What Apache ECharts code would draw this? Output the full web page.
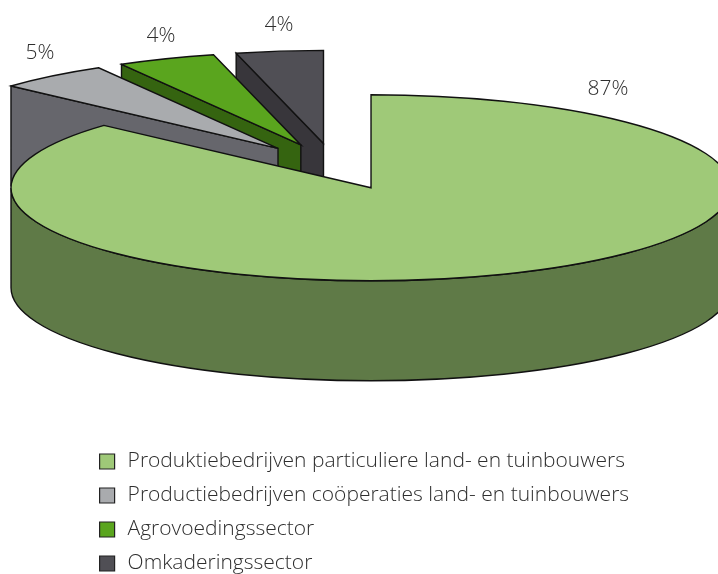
<!DOCTYPE html>
<html>
<head>
<meta charset="utf-8">
<style>
html,body{margin:0;padding:0;background:#fff;overflow:hidden;}
#chart{width:718px;height:574px;}
</style>
<script src="https://cdn.jsdelivr.net/npm/echarts@6/dist/echarts.min.js"></script>
</head>
<body>
<div id="chart"></div>
<script>
var sectors = ['Produktiebedrijven particuliere land- en tuinbouwers', 'Productiebedrijven coöperaties land- en tuinbouwers', 'Agrovoedingssector', 'Omkaderingssector'];
var shares = [86.7, 5.0, 4.4, 3.9];

var topColors = ['#9fc978', '#a9abae', '#5aa51e', '#504f55'];
var wallColors = ['#5f7a47', '#66666c', '#356410', '#38363b'];
var labelSpots = [[608, 89], [40, 53], [161, 36], [279, 25]];

// ellips van de taart + hoogte, alles in px
var cx = 334.5, cy = 166.5, rx = 360, ry = 93, depth = 100, explode = 0.25;
var lineCol = '#111';

function px(a, ox, oy) {
	return [ox + rx * Math.sin(a), oy - ry * Math.cos(a)];
}

// boog van a1 naar a2 (met de klok mee)
function arcPath(a1, a2, ox, oy) {
	var end = px(a2, ox, oy);
	var large = (a2 - a1) > Math.PI ? 1 : 0;
	return 'A' + rx + ' ' + ry + ' 0 ' + large + ' 1 ' + end[0] + ' ' + end[1];
}

function renderSlice(params, api) {
	var i = params.seriesIndex;
	var share = api.value(0), before = api.value(1);
	var a1 = before / 100 * 2 * Math.PI;
	var a2 = (before + share) / 100 * 2 * Math.PI;
	var mid = (a1 + a2) / 2;
	var ox = cx + explode * rx * Math.sin(mid);
	var oy = cy - explode * ry * Math.cos(mid);
	var p1 = px(a1, ox, oy), p2 = px(a2, ox, oy);
	var children = [];
	var wallStyle = {fill: wallColors[i], stroke: lineCol, lineWidth: 1.4};

	// voorkant (alleen het deel van de boog dat naar de kijker wijst)
	var f1 = Math.max(a1, Math.PI / 2), f2 = Math.min(a2, Math.PI * 1.5);
	if (f2 > f1) {
		var s = px(f1, ox, oy), e = px(f2, ox, oy);
		children.push({type: 'path', shape: {pathData:
			'M' + s[0] + ' ' + s[1] + arcPath(f1, f2, ox, oy) +
			'L' + e[0] + ' ' + (e[1] + depth) +
			'A' + rx + ' ' + ry + ' 0 ' + ((f2 - f1) > Math.PI ? 1 : 0) + ' 0 ' + s[0] + ' ' + (s[1] + depth) + 'Z'
		}, style: wallStyle});
	}
	// zijwand aan de beginkant van het stuk
	if (a1 > Math.PI) {
		children.push({type: 'polygon', shape: {points: [
			[ox, oy], p1, [p1[0], p1[1] + depth], [ox, oy + depth]
		]}, style: wallStyle});
	}
	// bovenvlak
	children.push({type: 'path', shape: {pathData:
		'M' + ox + ' ' + oy + 'L' + p1[0] + ' ' + p1[1] + arcPath(a1, a2, ox, oy) + 'Z'
	}, style: {fill: topColors[i], stroke: lineCol, lineWidth: 1.4}});
	// percentage
	children.push({type: 'text', style: {
		x: labelSpots[i][0], y: labelSpots[i][1], text: Math.round(share) + '%',
		font: '300 21px "Open Sans"', fill: '#2e2e2e', align: 'center', verticalAlign: 'middle'
	}});
	return {type: 'group', children: children};
}

var running = 0;
var series = sectors.map(function(name, i) {
	var item = {
		type: 'custom',
		name: name,
		coordinateSystem: 'none',
		z: 10 - i, // grootste stuk vooraan
		color: topColors[i],
		renderItem: renderSlice,
		silent: true,
		data: [[shares[i], running]]
	};
	running += shares[i];
	return item;
});

var chart = echarts.init(document.getElementById('chart'), null, {renderer: 'canvas'});
chart.setOption({
	animation: false,
	backgroundColor: '#fff',
	legend: {
		orient: 'vertical',
		left: 90,
		top: 442,
		height: 200,
		padding: [9, 9, 0, 9],
		icon: 'rect',
		itemWidth: 15,
		itemHeight: 15,
		itemGap: 13,
		selectedMode: false,
		itemStyle: {borderColor: '#222', borderWidth: 1.2},
		textStyle: {fontFamily: 'Open Sans', fontWeight: 300, fontSize: 21, color: '#2e2e2e', padding: [0, 0, 0, 8]},
		data: sectors
	},
	series: series
});
</script>
</body>
</html>
